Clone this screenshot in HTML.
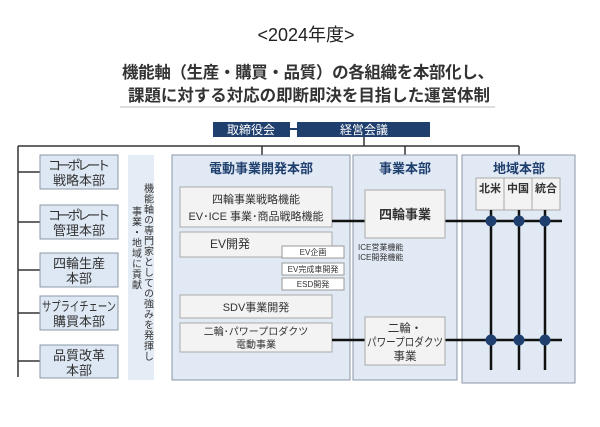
<!DOCTYPE html>
<html><head><meta charset="utf-8"><style>
body{margin:0;background:#fff;}
svg{display:block;font-family:"Liberation Sans","Noto Sans CJK JP",sans-serif;}
</style></head><body>
<svg width="600" height="427" viewBox="0 0 600 427" xmlns="http://www.w3.org/2000/svg">
<rect width="600" height="427" fill="#fff"/>
<text x="306" y="41" font-size="18" text-anchor="middle" fill="#222">&lt;2024年度&gt;</text>
<text x="308" y="78" font-size="16.5" font-weight="bold" text-anchor="middle" fill="#333" textLength="372">機能軸（生産・購買・品質）の各組織を本部化し、</text>
<text x="309" y="101" font-size="16.5" font-weight="bold" text-anchor="middle" fill="#333" textLength="362">課題に対する対応の即断即決を目指した運営体制</text>
<line x1="120" y1="107" x2="495" y2="107" stroke="#bbb" stroke-width="1"/>

<rect x="213" y="122" width="77" height="15" fill="#1f3f6e"/>
<text x="251" y="134" font-size="12" fill="#fff" text-anchor="middle">取締役会</text>
<line x1="290" y1="129" x2="300" y2="129" stroke="#1f3f6e" stroke-width="2"/>
<rect x="297" y="122" width="133" height="15" fill="#1f3f6e"/>
<text x="364" y="134" font-size="12" fill="#fff" text-anchor="middle">経営会議</text>

<g stroke="#333" stroke-width="1.5" fill="none">
<line x1="364" y1="137" x2="364" y2="146"/>
<line x1="18" y1="146" x2="519" y2="146"/>
<line x1="262" y1="146" x2="262" y2="155"/>
<line x1="405" y1="146" x2="405" y2="155"/>
<line x1="519" y1="146" x2="519" y2="155"/>
<line x1="18" y1="146" x2="18" y2="377"/>
<line x1="18" y1="172" x2="40" y2="172"/>
<line x1="18" y1="222" x2="40" y2="222"/>
<line x1="18" y1="270" x2="40" y2="270"/>
<line x1="18" y1="313" x2="40" y2="313"/>
<line x1="18" y1="361" x2="40" y2="361"/>
</g>

<g fill="#dde8f4" stroke="#8a97a6" stroke-width="1">
<rect x="40" y="155" width="78" height="34"/>
<rect x="40" y="205" width="78" height="34"/>
<rect x="40" y="253" width="78" height="34"/>
<rect x="40" y="296" width="78" height="34"/>
<rect x="40" y="345" width="78" height="33"/>
</g>
<g font-size="13" fill="#333" text-anchor="middle">
<text x="79" y="170" textLength="62">コーポレート</text><text x="79" y="185">戦略本部</text>
<text x="79" y="220" textLength="62">コーポレート</text><text x="79" y="235">管理本部</text>
<text x="79" y="268">四輪生産</text><text x="79" y="283">本部</text>
<text x="79" y="311" textLength="74" lengthAdjust="spacingAndGlyphs">サプライチェーン</text><text x="79" y="326">購買本部</text>
<text x="79" y="360">品質改革</text><text x="79" y="375">本部</text>
</g>

<rect x="128" y="155" width="26" height="225" fill="#e4ecf5"/>
<text x="147" y="183" font-size="10" fill="#333" style="writing-mode:vertical-rl" letter-spacing="0.5">機能軸の専門家としての強みを発揮し</text>
<text x="135" y="206" font-size="10" fill="#333" style="writing-mode:vertical-rl" letter-spacing="0.5">事業・地域に貢献</text>

<rect x="172" y="155" width="178" height="225" fill="#e1eaf4" stroke="#8a97a6"/>
<text x="261" y="173" font-size="13" font-weight="bold" fill="#1f3f6e" text-anchor="middle">電動事業開発本部</text>
<g fill="#f3f3f3" stroke="#aaa">
<rect x="180" y="187" width="152" height="40"/>
<rect x="180" y="232" width="152" height="25"/>
<rect x="180" y="295" width="152" height="23"/>
<rect x="180" y="323" width="152" height="29"/>
</g>
<g fill="#fff" stroke="#999">
<rect x="282" y="246" width="62" height="12"/>
<rect x="282" y="263" width="62" height="12"/>
<rect x="282" y="278" width="62" height="12"/>
</g>
<g font-size="11" fill="#333" text-anchor="middle">
<text x="256" y="203">四輪事業戦略機能</text>
<text x="256" y="220">EV･ICE 事業･商品戦略機能</text>
<text x="230" y="248" font-size="12">EV開発</text>
<text x="256" y="311">SDV事業開発</text>
<text x="256" y="335" font-size="10">二輪･パワープロダクツ</text>
<text x="256" y="348" font-size="10">電動事業</text>
</g>
<g font-size="8" fill="#333" text-anchor="middle">
<text x="313" y="255">EV企画</text>
<text x="313" y="272">EV完成車開発</text>
<text x="313" y="287">ESD開発</text>
</g>

<rect x="353" y="155" width="104" height="225" fill="#e1eaf4" stroke="#8a97a6"/>
<text x="405" y="173" font-size="13" font-weight="bold" fill="#1f3f6e" text-anchor="middle">事業本部</text>

<rect x="462" y="155" width="113" height="228" fill="#e1eaf4" stroke="#8a97a6"/>
<text x="519" y="173" font-size="13" font-weight="bold" fill="#1f3f6e" text-anchor="middle">地域本部</text>
<g fill="#f3f3f3" stroke="#aaa">
<rect x="476" y="178" width="28" height="32"/>
<rect x="504" y="178" width="28" height="32"/>
<rect x="532" y="178" width="28" height="32"/>
</g>
<g font-size="11" font-weight="bold" fill="#333" text-anchor="middle">
<text x="490" y="192">北米</text><text x="518" y="192">中国</text><text x="546" y="192">統合</text>
</g>

<g stroke="#111" stroke-width="2.5">
<line x1="332" y1="221" x2="562" y2="221"/>
<line x1="332" y1="340" x2="562" y2="340"/>
<line x1="491" y1="210" x2="491" y2="370"/>
<line x1="519" y1="210" x2="519" y2="370"/>
<line x1="545" y1="210" x2="545" y2="370"/>
</g>
<g fill="#1f3f6e">
<circle cx="491" cy="221" r="5.5"/><circle cx="519" cy="221" r="5.5"/><circle cx="545" cy="221" r="5.5"/>
<circle cx="491" cy="340" r="5.5"/><circle cx="519" cy="340" r="5.5"/><circle cx="545" cy="340" r="5.5"/>
</g>

<g fill="#f3f3f3" stroke="#aaa">
<rect x="365" y="190" width="80" height="48"/>
<rect x="365" y="317" width="80" height="48"/>
</g>
<text x="405" y="219" font-size="13" font-weight="bold" fill="#333" text-anchor="middle">四輪事業</text>
<g font-size="11.5" fill="#333" text-anchor="middle">
<text x="405" y="332">二輪・</text>
<text x="405" y="346" textLength="76" lengthAdjust="spacingAndGlyphs">パワープロダクツ</text>
<text x="405" y="360">事業</text>
</g>
<g font-size="8" fill="#333">
<text x="358" y="250">ICE営業機能</text>
<text x="358" y="260">ICE開発機能</text>
</g>
</svg>
</body></html>
